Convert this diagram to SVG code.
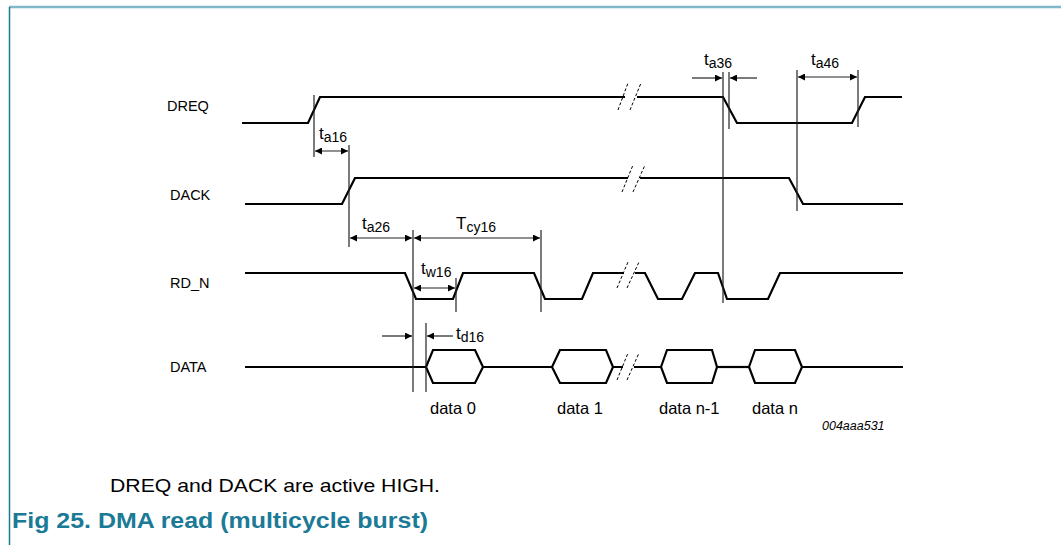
<svg xmlns="http://www.w3.org/2000/svg" width="1061" height="545" viewBox="0 0 1061 545">
<style>
text{font-family:"Liberation Sans",Arial,sans-serif;fill:#000}
.lbl{font-size:14.5px}
.dl{font-size:16.5px}
.tm{font-size:17px}
.sub{font-size:14px}
.sig{fill:none;stroke:#000;stroke-width:2.2;stroke-linejoin:miter}
.mk{fill:none;stroke:#222;stroke-width:1.2}
.brk{fill:none;stroke:#000;stroke-width:1;stroke-dasharray:3,2}
.gap{stroke:#fff;stroke-width:5}
</style>
<defs>
<marker id="ah" viewBox="0 0 10 10" refX="10" refY="5" markerWidth="10" markerHeight="7" markerUnits="userSpaceOnUse" orient="auto-start-reverse">
<path d="M0,0L10,5L0,10z" fill="#000"/>
</marker>
</defs>
<rect width="1061" height="545" fill="#fff"/>
<line x1="9" y1="7" x2="1061" y2="7" stroke="#7fb8c8" stroke-width="2.5"/>
<line x1="9.5" y1="7" x2="9.5" y2="545" stroke="#1b7a96" stroke-width="1.5"/>

<g id="dreq">
<text class="lbl" x="167" y="111">DREQ</text>
<polyline class="sig" points="242,123 308,123 320,97 723,97 737,123 852,123 865,97 902,97"/>
</g>
<g id="dack">
<text class="lbl" x="170" y="200">DACK</text>
<polyline class="sig" points="245,204 342,204 355,178 789,178 803,204 903,204"/>
</g>
<g id="rdn">
<text class="lbl" x="170" y="288">RD_N</text>
<polyline class="sig" points="245,273 405,273 416,299 453,299 463,273 534,273 545,299 582,299 593,273 645,273 658,299 682,299 695,273 718,273 727,299 768,299 780,273 903,273"/>
</g>
<g id="data">
<text class="lbl" x="170" y="372">DATA</text>
<polyline class="sig" points="245,367 426,367"/>
<polygon class="sig" points="426,367 433,350 475,350 483,367 475,383 433,383"/>
<polyline class="sig" points="483,367 552,367"/>
<polygon class="sig" points="552,367 560,350 606,350 613,367 606,383 560,383"/>
<polyline class="sig" points="613,367 661,367"/>
<polygon class="sig" points="661,367 667,350 712,350 717,367 712,383 667,383"/>
<polyline class="sig" points="717,367 749,367"/>
<polygon class="sig" points="749,367 755,350 795,350 802,367 795,383 755,383"/>
<polyline class="sig" points="802,367 903,367"/>
<text class="dl" x="430" y="414">data 0</text>
<text class="dl" x="557" y="414">data 1</text>
<text class="dl" x="659" y="414">data n-1</text>
<text class="dl" x="752" y="414">data n</text>
<text x="822" y="430" style="font-size:12.5px;font-style:italic">004aaa531</text>
</g>

<g id="breaks">
<line class="gap" x1="625" y1="97" x2="637" y2="97"/>
<line class="brk" x1="618" y1="110" x2="628" y2="83"/>
<line class="brk" x1="630" y1="110" x2="641" y2="83"/>
<line class="gap" x1="628" y1="178" x2="640" y2="178"/>
<line class="brk" x1="622" y1="192" x2="633" y2="165"/>
<line class="brk" x1="633" y1="192" x2="645" y2="165"/>
<line class="gap" x1="624" y1="273" x2="635" y2="273"/>
<line class="brk" x1="617" y1="288" x2="628" y2="262"/>
<line class="brk" x1="627" y1="288" x2="639" y2="262"/>
<line class="gap" x1="623" y1="367" x2="634" y2="367"/>
<line class="brk" x1="617" y1="380" x2="628" y2="353"/>
<line class="brk" x1="627" y1="380" x2="639" y2="353"/>
</g>

<g id="connectors">
<line class="mk" x1="314" y1="95" x2="314" y2="157"/>
<line class="mk" x1="349" y1="145" x2="349" y2="247"/>
<line class="mk" x1="315" y1="151" x2="348" y2="151" marker-start="url(#ah)" marker-end="url(#ah)"/>
<line class="mk" x1="413" y1="230" x2="413" y2="392"/>
<line class="mk" x1="350" y1="238" x2="412" y2="238" marker-start="url(#ah)" marker-end="url(#ah)"/>
<line class="mk" x1="541" y1="230" x2="541" y2="312"/>
<line class="mk" x1="414" y1="238" x2="540" y2="238" marker-start="url(#ah)" marker-end="url(#ah)"/>
<line class="mk" x1="456" y1="278" x2="456" y2="312"/>
<line class="mk" x1="414" y1="288" x2="455" y2="288" marker-start="url(#ah)" marker-end="url(#ah)"/>
<line class="mk" x1="426" y1="323" x2="426" y2="392"/>
<line class="mk" x1="382" y1="336" x2="412" y2="336" marker-end="url(#ah)"/>
<line class="mk" x1="453" y1="336" x2="427" y2="336" marker-end="url(#ah)"/>
<line class="mk" x1="723" y1="72" x2="723" y2="303"/>
<line class="mk" x1="729" y1="72" x2="729" y2="129"/>
<line class="mk" x1="692" y1="78" x2="722" y2="78" marker-end="url(#ah)"/>
<line class="mk" x1="757" y1="78" x2="730" y2="78" marker-end="url(#ah)"/>
<line class="mk" x1="797" y1="70" x2="797" y2="211"/>
<line class="mk" x1="858" y1="70" x2="858" y2="127"/>
<line class="mk" x1="798" y1="77" x2="857" y2="77" marker-start="url(#ah)" marker-end="url(#ah)"/>
</g>

<g id="timing-labels">
<text class="tm" x="319" y="139">t<tspan class="sub" dy="3">a16</tspan></text>
<text class="tm" x="362" y="229">t<tspan class="sub" dy="3">a26</tspan></text>
<text class="tm" x="456" y="229">T<tspan class="sub" dy="3">cy16</tspan></text>
<text class="tm" x="421" y="274">t<tspan class="sub" dy="3">w16</tspan></text>
<text class="tm" x="456" y="339">t<tspan class="sub" dy="3">d16</tspan></text>
<text class="tm" x="704" y="65">t<tspan class="sub" dy="3">a36</tspan></text>
<text class="tm" x="811" y="65">t<tspan class="sub" dy="3">a46</tspan></text>
</g>

<text x="110" y="492" textLength="330" lengthAdjust="spacingAndGlyphs" style="font-size:19px">DREQ and DACK are active HIGH.</text>
<text x="12" y="528" textLength="416" lengthAdjust="spacingAndGlyphs" style="font-size:22px;font-weight:bold;fill:#1b7a96">Fig 25.  DMA read (multicycle burst)</text>
</svg>
